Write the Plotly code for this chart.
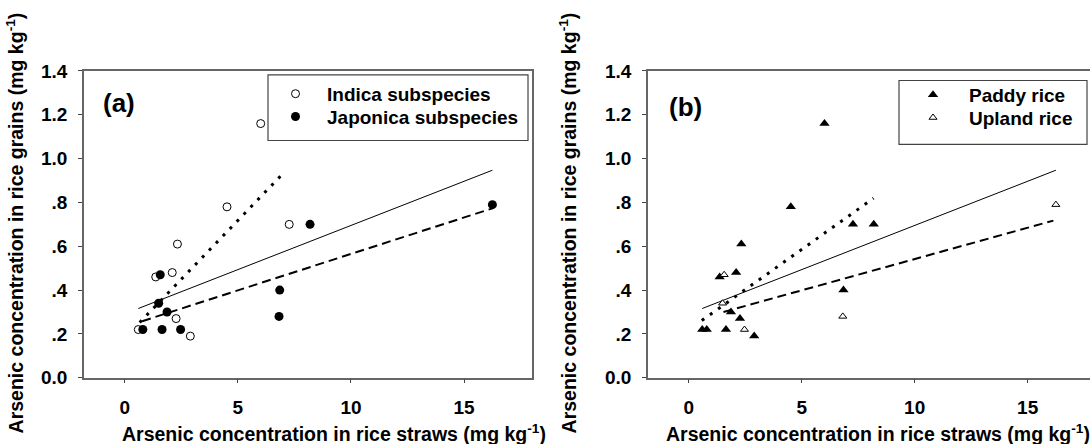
import plotly.graph_objects as go

# ---------------- data ----------------
straw = [0.60, 0.80, 1.37, 1.57, 1.50, 1.87, 1.65, 2.10, 2.33, 2.27,
         2.47, 2.90, 4.52, 6.01, 6.85, 6.82, 7.27, 8.19, 16.25]
grain = [0.22, 0.22, 0.46, 0.47, 0.34, 0.30, 0.22, 0.48, 0.61, 0.27,
         0.22, 0.19, 0.78, 1.16, 0.40, 0.28, 0.70, 0.70, 0.79]
subspecies = ["I", "J", "I", "J", "J", "J", "J", "I", "I", "I",
              "J", "I", "I", "I", "J", "J", "I", "J", "J"]
ecotype = ["P", "P", "P", "U", "U", "P", "P", "P", "P", "P",
           "U", "P", "P", "P", "P", "U", "P", "P", "U"]

# regression lines (end points)
fit_all_x = [0.60, 16.25]
fit_all_y = [0.316, 0.947]
fit_indica_x = [0.66, 7.06]
fit_indica_y = [0.252, 0.939]
fit_japonica_x = [0.77, 16.25]
fit_japonica_y = [0.258, 0.773]
fit_paddy_x = [0.58, 8.18]
fit_paddy_y = [0.261, 0.819]
fit_upland_x = [1.54, 16.14]
fit_upland_y = [0.300, 0.717]

x_ticks = [0, 5, 10, 15]
y_ticks = [0.0, 0.2, 0.4, 0.6, 0.8, 1.0, 1.2, 1.4]
y_ticklabels = ["0.0", ".2", ".4", ".6", ".8", "1.0", "1.2", "1.4"]


def pick(vals, groups, key):
    return [v for v, g in zip(vals, groups) if g == key]


W, H = 1090, 444
FONT = "Liberation Sans, Arial, sans-serif"

fig = go.Figure()

# ---------- panel (a) ----------
fig.add_trace(go.Scatter(
    x=fit_all_x, y=fit_all_y, mode="lines", showlegend=False,
    line=dict(color="black", width=1), xaxis="x", yaxis="y"))
fig.add_trace(go.Scatter(
    x=fit_indica_x, y=fit_indica_y, mode="lines", showlegend=False,
    line=dict(color="black", width=3, dash="3px,7px"), xaxis="x", yaxis="y"))
fig.add_trace(go.Scatter(
    x=fit_japonica_x, y=fit_japonica_y, mode="lines", showlegend=False,
    line=dict(color="black", width=2, dash="9px,5px"), xaxis="x", yaxis="y"))
fig.add_trace(go.Scatter(
    x=pick(straw, subspecies, "I"), y=pick(grain, subspecies, "I"),
    mode="markers", name="Indica subspecies", legend="legend",
    marker=dict(symbol="circle", size=8, color="white",
                line=dict(color="black", width=1)),
    xaxis="x", yaxis="y"))
fig.add_trace(go.Scatter(
    x=pick(straw, subspecies, "J"), y=pick(grain, subspecies, "J"),
    mode="markers", name="Japonica subspecies", legend="legend2",
    marker=dict(symbol="circle", size=9, color="black",
                line=dict(color="black", width=0)),
    xaxis="x", yaxis="y"))

# ---------- panel (b) ----------
fig.add_trace(go.Scatter(
    x=fit_all_x, y=fit_all_y, mode="lines", showlegend=False,
    line=dict(color="black", width=1), xaxis="x2", yaxis="y2"))
fig.add_trace(go.Scatter(
    x=fit_paddy_x, y=fit_paddy_y, mode="lines", showlegend=False,
    line=dict(color="black", width=3, dash="3px,7px"), xaxis="x2", yaxis="y2"))
fig.add_trace(go.Scatter(
    x=fit_upland_x, y=fit_upland_y, mode="lines", showlegend=False,
    line=dict(color="black", width=2, dash="9px,5px"), xaxis="x2", yaxis="y2"))
fig.add_trace(go.Scatter(
    x=pick(straw, ecotype, "P"), y=pick(grain, ecotype, "P"),
    mode="markers", name="Paddy rice", legend="legend3",
    marker=dict(symbol="triangle-up", size=9, color="black",
                line=dict(color="black", width=0)),
    xaxis="x2", yaxis="y2"))
fig.add_trace(go.Scatter(
    x=pick(straw, ecotype, "U"), y=pick(grain, ecotype, "U"),
    mode="markers", name="Upland rice", legend="legend4",
    marker=dict(symbol="triangle-up", size=7, color="white",
                line=dict(color="black", width=1)),
    xaxis="x2", yaxis="y2"))


def px(v):
    return v / W


def py(v):
    return 1 - v / H


axis_common = dict(
    showline=True, linecolor="#666666", linewidth=1.5,
    showgrid=False, zeroline=False,
    ticks="outside", ticklen=4, tickwidth=1, tickcolor="#444444",
    tickfont=dict(family=FONT, size=19, color="black", weight="bold"),
)

PLOT_L_A, PLOT_R_A = 84, 532
PLOT_L_B = 648
PLOT_T, PLOT_B = 64, 386

legend_font = dict(family=FONT, size=19, color="black", weight="bold")


def legend_at(xl, yc, itemwidth):
    return dict(x=px(xl), y=py(yc), xanchor="left", yanchor="middle",
                bgcolor="rgba(0,0,0,0)", borderwidth=0, itemwidth=itemwidth,
                font=legend_font)


fig.update_layout(
    width=W, height=H,
    margin=dict(l=0, r=0, t=0, b=0),
    paper_bgcolor="white", plot_bgcolor="white",
    font=dict(family=FONT, color="black"),
    xaxis=dict(domain=[px(PLOT_L_A), px(PLOT_R_A)], range=[-1.8, 18.0],
               tickvals=x_ticks, mirror=True, anchor="y",
               ticklabelstandoff=8, **axis_common),
    yaxis=dict(domain=[py(PLOT_B), py(PLOT_T)], range=[0, 1.4],
               tickvals=y_ticks, ticktext=y_ticklabels, mirror=True,
               anchor="x", ticklabelstandoff=7, **axis_common),
    xaxis2=dict(domain=[px(PLOT_L_B), 1.0], range=[-1.8, 17.76],
                tickvals=x_ticks, mirror=True, anchor="y2",
                ticklabelstandoff=8, **axis_common),
    yaxis2=dict(domain=[py(PLOT_B), py(PLOT_T)], range=[0, 1.4],
                tickvals=y_ticks, ticktext=y_ticklabels, mirror=False,
                anchor="x2", ticklabelstandoff=7, **axis_common),
    legend=legend_at(264, 88, 53),
    legend2=legend_at(264, 112, 53),
    legend3=legend_at(897, 89, 62),
    legend4=legend_at(897, 113, 62),
    shapes=[
        dict(type="rect", xref="paper", yref="paper",
             x0=px(268), x1=px(528), y0=py(137), y1=py(68),
             line=dict(color="#444444", width=1.2)),
        dict(type="rect", xref="paper", yref="paper",
             x0=px(899), x1=px(1087), y0=py(141), y1=py(74),
             line=dict(color="#444444", width=1.2)),
    ],
)

title_font = dict(family=FONT, size=19.5, color="black", weight="bold")
xt = "Arsenic concentration in rice straws (mg kg<sup>-1</sup>)"
yt = "Arsenic concentration in rice grains (mg kg<sup>-1</sup>)"
annotations = [
    dict(text=xt, x=px(334), y=py(436), yshift=-8, xref="paper",
         yref="paper", xanchor="center", yanchor="middle", showarrow=False,
         font=title_font),
    dict(text=xt, x=px(878), y=py(436), yshift=-8, xref="paper",
         yref="paper", xanchor="center", yanchor="middle", showarrow=False,
         font=title_font),
    dict(text=yt, x=px(15), y=py(224), xref="paper", yref="paper",
         xanchor="center", yanchor="middle", showarrow=False, textangle=-90,
         font=title_font),
    dict(text=yt, x=px(568), y=py(224), xref="paper", yref="paper",
         xanchor="center", yanchor="middle", showarrow=False, textangle=-90,
         font=title_font),
    dict(text="(a)", x=px(119), y=py(98), xref="paper", yref="paper",
         xanchor="center", yanchor="middle", showarrow=False,
         font=dict(family=FONT, size=26, color="black", weight="bold")),
    dict(text="(b)", x=px(685), y=py(102), xref="paper", yref="paper",
         xanchor="center", yanchor="middle", showarrow=False,
         font=dict(family=FONT, size=26, color="black", weight="bold")),
]
fig.update_layout(annotations=annotations)

fig.write_html("out.html")
